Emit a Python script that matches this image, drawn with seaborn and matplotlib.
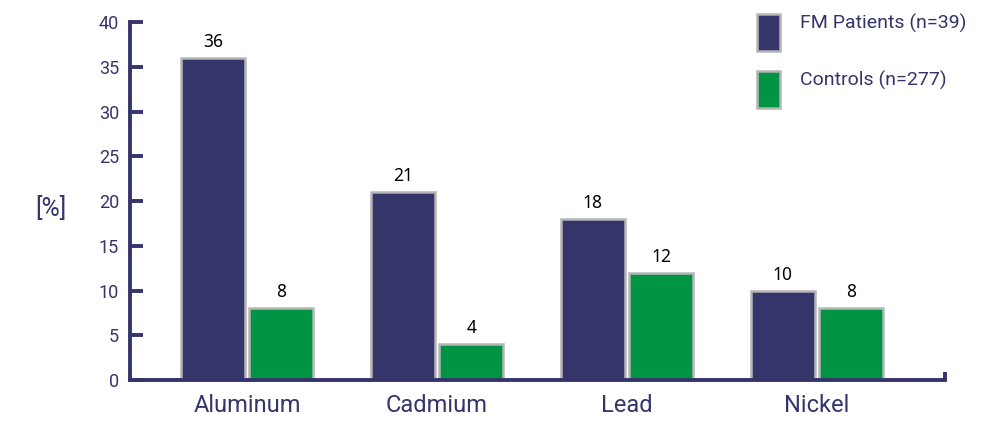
import matplotlib
matplotlib.use("Agg")
import matplotlib.pyplot as plt
from matplotlib.patches import Rectangle
import seaborn as sns
import pandas as pd

metals = ["Aluminum", "Cadmium", "Lead", "Nickel"]
groups = ["FM Patients (n=39)", "Controls (n=277)"]
fm_patients = [36, 21, 18, 10]
controls = [8, 4, 12, 8]
y_ticks = [0, 5, 10, 15, 20, 25, 30, 35, 40]

navy = "#35346b"
green = "#009444"
edge = "#b5b5b5"

df = pd.DataFrame({
    "metal": metals * 2,
    "group": [groups[0]] * len(metals) + [groups[1]] * len(metals),
    "value": fm_patients + controls,
})

sns.set_style("white")
plt.rcParams["font.family"] = ["Roboto", "DejaVu Sans"]

fig = plt.figure(figsize=(9.94, 4.21), dpi=100)
ax = fig.add_axes([0.1308, 0.0974, 0.8199, 0.8503])

sns.barplot(data=df, x="metal", y="value", hue="group", order=metals,
            hue_order=groups, palette=[navy, green], saturation=1,
            width=0.72, gap=0.07, edgecolor=edge, linewidth=1.8,
            legend=False, ax=ax)

for container in ax.containers:
    ax.bar_label(container, fmt="%d", padding=5, fontsize=12.5, color="black",
                 family=["Noto Sans", "DejaVu Sans"])

ax.set_ylim(0, 40)
ax.set_xlim(-0.616, 3.674)
ax.set_yticks(y_ticks)
ax.set_xlabel("")
ax.set_ylabel("[%]", rotation=0, fontsize=18, color=navy, va="center")
ax.yaxis.set_label_coords(-0.097, 0.48)

for side in ("top", "right"):
    ax.spines[side].set_visible(False)
for side in ("left", "bottom"):
    ax.spines[side].set_color(navy)
    ax.spines[side].set_linewidth(2.8)

ax.tick_params(axis="y", direction="in", length=9, width=2.8, color=navy,
               labelsize=13, labelcolor=navy, pad=8, left=True)
ax.tick_params(axis="x", length=0, labelsize=17, labelcolor=navy, pad=10)

# small upward end mark on the baseline
ax.plot([1, 1], [0, 0.022], transform=ax.transAxes, color=navy, lw=2.8,
        clip_on=False, solid_capstyle="butt")

# legend: tall swatches with the label aligned to the swatch top
W, H = 994, 421
for i, (label, color) in enumerate(zip(groups, [navy, green])):
    top = 14 + i * 57
    fig.add_artist(Rectangle((757 / W, 1 - (top + 37) / H), 23 / W, 37 / H,
                             transform=fig.transFigure, facecolor=color,
                             edgecolor=edge, linewidth=1.8))
    fig.text(800 / W, 1 - (top + 9) / H, label, fontsize=14, color=navy,
             ha="left", va="center")

fig.savefig("out.png", dpi=100)
